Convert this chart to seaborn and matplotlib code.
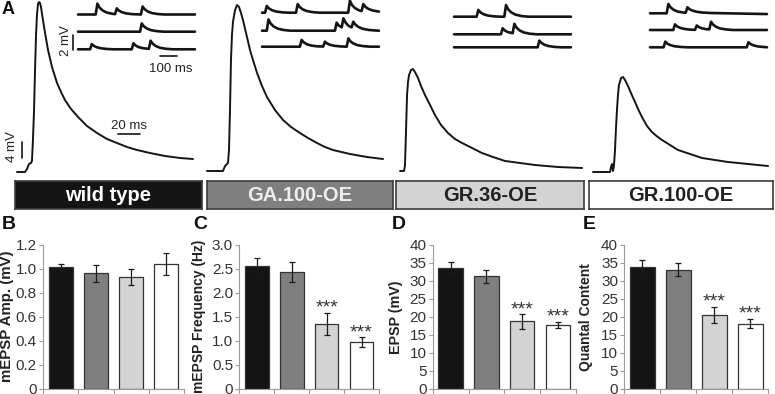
import numpy as np
import pandas as pd
import matplotlib
matplotlib.use("Agg")
import matplotlib.pyplot as plt
import seaborn as sns

W, H = 775, 394

# ---------------- data ----------------
genotypes = ["wild type", "GA.100-OE", "GR.36-OE", "GR.100-OE"]
bar_colors = ["#141414", "#7f7f7f", "#d3d3d3", "#ffffff"]
box_text_colors = ["#ffffff", "#eeeeee", "#222222", "#222222"]

mepsp_amp = [1.01, 0.96, 0.93, 1.04]
mepsp_amp_err = [0.03, 0.07, 0.07, 0.09]
mepsp_freq = [2.55, 2.43, 1.35, 0.97]
mepsp_freq_err = [0.17, 0.21, 0.23, 0.10]
epsp_amp = [33.6, 31.2, 18.7, 17.7]
epsp_amp_err = [1.5, 1.8, 2.0, 0.9]
quantal = [33.8, 33.0, 20.6, 18.1]
quantal_err = [1.9, 1.8, 2.2, 1.3]
signif_freq = ["", "", "***", "***"]
signif_epsp = ["", "", "***", "***"]
signif_quantal = ["", "", "***", "***"]

# evoked EPSP traces (ms, mV above baseline)
wt_t = [0, 7.3, 9.1, 10.9, 12.7, 13.6, 14.5, 15.5, 16.4, 17.3, 18.2, 19.1, 20, 20.9, 21.8, 23.6,
        25.5, 28.2, 31.8, 36.4, 40, 43.6, 49.1, 55.5, 63.6, 72.7, 81.8, 90.9, 100, 109.1, 120.9,
        134.5, 148.2, 160]
wt_v = [0, 0, 0.75, 2, 2.25, 2.75, 8, 15.5, 25.5, 34.25, 39.5, 42, 42.5, 42.25, 41.25, 38,
        34.75, 30.5, 26.25, 22.25, 20, 18, 15.75, 13.75, 11.5, 9.75, 8.25, 7.25, 6.25, 5.5, 4.75,
        4, 3.5, 3.25]
ga100_t = [0, 14.5, 16.4, 19.1, 20, 20.9, 21.8, 22.7, 23.6, 25.5, 27.3, 29.1, 30.9, 32.7, 35.5,
           39.1, 41.8, 45.5, 50, 54.5, 61.8, 69.1, 76.4, 84.5, 91.8, 100, 107.3, 114.5, 130,
           145.5, 160]
ga100_v = [0, 0, 1.25, 2, 5.25, 15.25, 27.75, 34, 37.25, 40.25, 41.5, 41, 39.5, 37.75, 34.5,
           30.25, 27.75, 24.5, 21.25, 18.5, 15.25, 12.75, 11, 9.5, 8.25, 7, 6, 5.25, 4.25, 3.5, 3]
gr36_t = [0, 3.6, 4.5, 5.5, 6.4, 7.3, 8.2, 10, 11.8, 13.6, 16.4, 19.1, 22.7, 27.3, 31.8, 37.3,
          43.6, 50, 56.4, 65.5, 74.5, 84.5, 95.5, 109.1, 122.7, 143.6, 165.5]
gr36_v = [0, 0, 1.25, 10.25, 19, 22.25, 24, 25.25, 25.5, 24.75, 23.25, 21.25, 19, 16.5, 14, 11.5,
          9.5, 8, 7, 5.75, 4.5, 3.5, 2.5, 2, 1.5, 1, 0.75]
gr100_t = [0, 15.5, 16.4, 17.3, 18.2, 19.1, 20, 20.9, 21.8, 22.7, 23.6, 25.5, 27.3, 29.1, 31.8,
           34.5, 38.2, 41.8, 45.5, 49.1, 53.6, 58.2, 62.7, 70, 77.3, 88.2, 99.1, 110.9, 122.7,
           140.9, 159.1]
gr100_v = [0, 0, 1.25, 2, 0.25, 1.75, 5.5, 11, 15.5, 19.25, 21.75, 23.5, 23.75, 23, 21.5, 19.75,
           17.5, 15.25, 13.25, 11.5, 10, 8.9, 8, 6.75, 5.5, 4.5, 3.5, 3, 2.5, 2, 1.5]

# spontaneous mEPSP sweeps (ms, mV), three per genotype
wt_mini = [
    [(0, 0), (104, 0), (114, 1.45), (126, 0.94), (144, 0.55), (169, 0.26), (204, 0.09), (218, 0.04),
     (228, 0.82), (240, 0.53), (258, 0.31), (283, 0.15), (318, 0.05), (370, 0), (380, 1.07),
     (392, 0.7), (410, 0.41), (435, 0.19), (470, 0.06), (510, 0), (688, 0)],
    [(0, 0), (365, 0), (375, 1.1), (387, 0.72), (405, 0.42), (430, 0.2), (465, 0.07), (505, 0),
     (688, 0)],
    [(0, 0), (71, 0), (81, 0.7), (93, 0.46), (111, 0.27), (136, 0.13), (171, 0.04), (211, 0),
     (316, 0), (326, 0.8), (338, 0.52), (356, 0.3), (381, 0.15), (417, 0.06), (427, 1.15),
     (439, 0.75), (457, 0.44), (482, 0.21), (517, 0.07), (557, 0), (688, 0)],
]
ga100_mini = [
    [(0, 0), (18, 0), (28, 0.9), (40, 0.59), (58, 0.34), (83, 0.16), (118, 0.05), (158, 0), (200, 0),
     (210, 1.15), (222, 0.75), (240, 0.44), (265, 0.21), (300, 0.07), (340, 0), (507, 0),
     (517, 1.6), (529, 1.04), (547, 0.61), (572, 0.3), (586, 0.22), (596, 1.15), (608, 0.78),
     (626, 0.5), (651, 0.3), (688, 0.15)],
    [(0, 0), (28, 0), (38, 1.5), (50, 0.98), (68, 0.57), (93, 0.27), (128, 0.09), (168, 0), (429, 0),
     (439, 1.07), (451, 0.7), (469, 0.45), (479, 1.65), (491, 1.1), (509, 0.65), (527, 0.45),
     (537, 1.2), (549, 0.82), (567, 0.5), (592, 0.26), (627, 0.1), (667, 0.03), (688, 0)],
    [(0, 0), (223, 0), (233, 0.9), (245, 0.59), (263, 0.34), (288, 0.16), (323, 0.05), (360, 0.02),
     (370, 0.67), (382, 0.44), (400, 0.26), (425, 0.12), (460, 0.04), (498, 0), (508, 1.1),
     (520, 0.72), (538, 0.42), (563, 0.2), (598, 0.07), (638, 0), (688, 0)],
]
gr36_mini = [
    [(0, 0), (133, 0), (143, 0.9), (155, 0.59), (173, 0.34), (198, 0.16), (233, 0.05), (273, 0),
     (296, 0), (306, 1.55), (318, 1.0), (336, 0.59), (361, 0.28), (396, 0.09), (436, 0), (688, 0)],
    [(0, 0), (276, 0), (286, 0.8), (298, 0.52), (316, 0.3), (341, 0.16), (345, 0.15), (355, 1.4),
     (367, 0.91), (385, 0.53), (410, 0.25), (445, 0.08), (485, 0), (688, 0)],
    [(0, 0), (492, 0), (502, 0.9), (514, 0.59), (532, 0.34), (557, 0.16), (592, 0.05), (632, 0),
     (688, 0)],
]
gr100_mini = [
    [(0, 0), (98, 0), (108, 1.25), (120, 0.81), (138, 0.48), (163, 0.23), (198, 0.1), (210, 0.08),
     (220, 0.8), (232, 0.55), (250, 0.36), (275, 0.2), (310, 0.1), (360, 0.04), (450, 0),
     (688, -0.1)],
    [(0, 0), (137, 0), (147, 0.75), (159, 0.49), (177, 0.29), (202, 0.14), (237, 0.05), (265, 0.02),
     (275, 0.6), (287, 0.39), (305, 0.23), (330, 0.11), (349, 0.08), (359, 1.1), (371, 0.72),
     (389, 0.42), (414, 0.2), (449, 0.07), (489, 0), (688, 0)],
    [(0, 0), (80, 0), (90, 0.75), (102, 0.49), (120, 0.29), (145, 0.14), (180, 0.05), (220, 0),
     (569, 0), (579, 0.67), (591, 0.44), (609, 0.26), (634, 0.12), (669, 0.04), (688, 0)],
]

evoked = [(wt_t, wt_v), (ga100_t, ga100_v), (gr36_t, gr36_v), (gr100_t, gr100_v)]
minis = [wt_mini, ga100_mini, gr36_mini, gr100_mini]

# ---------------- layout (pixels) ----------------
MAIN_PX_PER_MS, MAIN_PX_PER_MV = 1.1, 4.0
INSET_PX_PER_MS, INSET_PX_PER_MV = 0.17, 7.5
trace_start_px = [17, 207, 400, 593]
trace_base_px = [172, 171, 171, 172]
mini_start_px = [78, 262, 454, 650]
mini_base_px = [[14.5, 31.7, 49.3], [12.7, 30.7, 46.7], [16.7, 34.3, 47.3], [13.3, 30, 47.3]]
TRACE = "#151515"
AXIS_GRAY = "#9a9a9a"

sns.set_style("white")
plt.rcParams["font.family"] = ["Liberation Sans", "DejaVu Sans"]

fig = plt.figure(figsize=(W / 100, H / 100), dpi=100)


def px_axes(x0, y0, x1, y1):
    return fig.add_axes([x0 / W, 1 - y1 / H, (x1 - x0) / W, (y1 - y0) / H])


# ---- panel A: evoked traces ----
A_H = 178
ax_a = px_axes(0, 0, W, A_H)
ax_a.set_xlim(0, W / MAIN_PX_PER_MS)
ax_a.set_ylim(0, A_H / MAIN_PX_PER_MV)
ax_a.axis("off")
for (t, v), x0, y0 in zip(evoked, trace_start_px, trace_base_px):
    sns.lineplot(x=np.array(t) + x0 / MAIN_PX_PER_MS,
                 y=np.array(v) + (A_H - y0) / MAIN_PX_PER_MV,
                 ax=ax_a, color=TRACE, linewidth=1.4, estimator=None, sort=False)
# 20 ms / 4 mV scale bars
ax_a.plot([118 / MAIN_PX_PER_MS, 118 / MAIN_PX_PER_MS + 20], [11, 11], color=TRACE, lw=1.2)
ax_a.text(118 / MAIN_PX_PER_MS + 10, 13.1, "20 ms", ha="center", va="center", fontsize=9.5,
          color="#222222")
ax_a.plot([22 / MAIN_PX_PER_MS] * 2, [5, 9], color=TRACE, lw=1.2)
ax_a.text(12 / MAIN_PX_PER_MS, 7.9, "4 mV", ha="center", va="center", rotation=90, fontsize=9.5,
          color="#222222")

# ---- panel A: mEPSP insets ----
I_H = 80
ax_i = px_axes(0, 0, W, I_H)
ax_i.set_xlim(0, W / INSET_PX_PER_MS)
ax_i.set_ylim(0, I_H / INSET_PX_PER_MV)
ax_i.axis("off")
for rows, x0, bases in zip(minis, mini_start_px, mini_base_px):
    for row, y0 in zip(rows, bases):
        t, v = zip(*row)
        sns.lineplot(x=np.array(t) + x0 / INSET_PX_PER_MS,
                     y=np.array(v) + (I_H - y0) / INSET_PX_PER_MV,
                     ax=ax_i, color=TRACE, linewidth=1.9, estimator=None, sort=False)
ax_i.plot([72.7 / INSET_PX_PER_MS] * 2, [(I_H - 50) / INSET_PX_PER_MV, (I_H - 50) / INSET_PX_PER_MV + 2],
          color=TRACE, lw=1.2)
ax_i.text(66 / INSET_PX_PER_MS, (I_H - 41) / INSET_PX_PER_MV, "2 mV", ha="center", va="center",
          rotation=90, fontsize=9.5, color="#222222")
ax_i.plot([160 / INSET_PX_PER_MS, 160 / INSET_PX_PER_MS + 100], [(I_H - 56) / INSET_PX_PER_MV] * 2,
          color=TRACE, lw=1.2)
ax_i.text(171 / INSET_PX_PER_MS, (I_H - 68.5) / INSET_PX_PER_MV, "100 ms", ha="center",
          va="center", fontsize=9.5, color="#222222")

# ---- genotype label boxes ----
box_px = [(15, 202), (207, 393), (396, 584), (589, 773)]
for name, (x0, x1), fc, tc in zip(genotypes, box_px, bar_colors, box_text_colors):
    axb = px_axes(x0, 181, x1, 209)
    axb.set_facecolor(fc)
    axb.set_xticks([])
    axb.set_yticks([])
    for s in axb.spines.values():
        s.set_visible(True)
        s.set_color("#3c3c3c")
        s.set_linewidth(1.2)
    axb.text(0.5, 0.47, name, ha="center", va="center", transform=axb.transAxes,
             fontsize=14.5, fontweight="bold", color=tc)

# ---- bar panels B-E ----
panels = [
    ("mEPSP Amp. (mV)", mepsp_amp, mepsp_amp_err, None, 1.2,
     [0, 0.2, 0.4, 0.6, 0.8, 1.0, 1.2], ["0", "0.2", "0.4", "0.6", "0.8", "1.0", "1.2"]),
    ("mEPSP Frequency (Hz)", mepsp_freq, mepsp_freq_err, signif_freq, 3.0,
     [0, 0.5, 1.0, 1.5, 2.0, 2.5, 3.0], ["0", "0.5", "1.0", "1.5", "2.0", "2.5", "3.0"]),
    ("EPSP (mV)", epsp_amp, epsp_amp_err, signif_epsp, 40,
     [0, 5, 10, 15, 20, 25, 30, 35, 40], ["0", "5", "10", "15", "20", "25", "30", "35", "40"]),
    ("Quantal Content", quantal, quantal_err, signif_quantal, 40,
     [0, 5, 10, 15, 20, 25, 30, 35, 40], ["0", "5", "10", "15", "20", "25", "30", "35", "40"]),
]
panel_x = [(43, 184), (239.3, 379), (432.7, 576), (624.3, 768.3)]
label_right = [14, 206, 403, 593]
label_size = [10.8, 10.0, 10.3, 10]
letters = ["B", "C", "D", "E"]
letter_x = [2, 193, 392, 583]

for (ylab, vals, errs, stars, ymax, ticks, tlabels), (x0, x1), lr, fs, let, lx in zip(
        panels, panel_x, label_right, label_size, letters, letter_x):
    ax = px_axes(x0, 244.5, x1, 389)
    df = pd.DataFrame({"genotype": genotypes, "value": vals})
    sns.barplot(data=df, x="genotype", y="value", hue="genotype", palette=bar_colors,
                legend=False, ax=ax, width=0.68, edgecolor="#333333", linewidth=0.9,
                errorbar=None, saturation=1)
    ax.errorbar(np.arange(len(vals)), vals, yerr=errs, fmt="none", ecolor="#1a1a1a",
                elinewidth=0.9, capsize=2, capthick=0.9)
    if stars:
        for i, (v, e, s) in enumerate(zip(vals, errs, stars)):
            if s:
                ax.annotate(s, xy=(i, v + e), xytext=(0, 0), textcoords="offset points",
                            ha="center", va="baseline", fontsize=14, color="#333333")
    ax.set_xlim(-0.5, 3.5)
    ax.set_ylim(0, ymax)
    ax.set_xticks([])
    ax.set_xticks([-0.5, 0.5, 1.5, 2.5, 3.5], minor=True)
    ax.set_xlabel("")
    ax.set_yticks(ticks)
    ax.set_yticklabels(tlabels)
    ax.tick_params(axis="x", which="minor", bottom=True, length=4, width=0.8, color=AXIS_GRAY)
    ax.tick_params(axis="y", left=True, length=3, width=0.8, color=AXIS_GRAY, labelsize=11,
                   labelcolor="#333333", pad=1.5)
    sns.despine(ax=ax)
    for s in ("left", "bottom"):
        ax.spines[s].set_color(AXIS_GRAY)
        ax.spines[s].set_linewidth(0.8)
    ax.set_ylabel(ylab, fontsize=fs, fontweight="bold", color="#222222")
    ax.yaxis.set_label_coords((lr - x0) / (x1 - x0), 0.5)
    fig.text(lx / W, 1 - 216 / H, let, ha="left", va="top", fontsize=14, fontweight="bold",
             color="#111111")

fig.text(2 / W, 1 - 1 / H, "A", ha="left", va="top", fontsize=13, fontweight="bold",
         color="#111111")

fig.savefig("out.png", dpi=100)
